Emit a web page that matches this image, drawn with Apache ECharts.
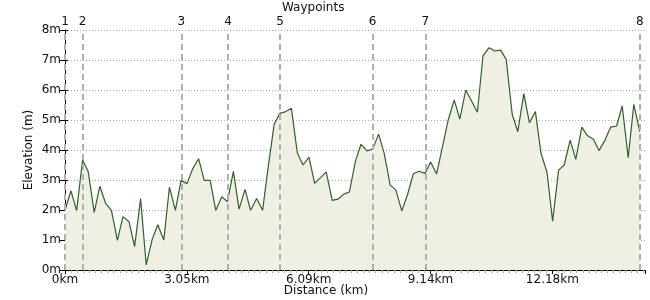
<!DOCTYPE html>
<html>
<head>
<meta charset="utf-8">
<script src="https://cdn.jsdelivr.net/npm/echarts@6/dist/echarts.min.js"></script>
<style>
html,body{margin:0;padding:0;background:#fff;}
#chart{width:650px;height:300px;}
</style>
</head>
<body>
<div id="chart"></div>
<script>
var distances = [0,0.15,0.29,0.44,0.58,0.73,0.87,1.02,1.16,1.31,1.45,1.60,1.74,1.89,2.03,2.18,2.32,2.47,2.61,2.76,
2.90,3.05,3.19,3.34,3.48,3.63,3.77,3.92,4.06,4.21,4.35,4.50,4.64,4.79,4.94,5.08,5.23,5.37,5.52,5.66,
5.81,5.95,6.10,6.24,6.39,6.53,6.68,6.82,6.97,7.11,7.26,7.40,7.55,7.69,7.84,7.98,8.13,8.27,8.42,8.56,
8.71,8.85,9.00,9.14,9.29,9.43,9.58,9.73,9.87,10.02,10.16,10.31,10.45,10.60,10.74,10.89,11.03,11.18,11.32,11.47,
11.61,11.76,11.90,12.05,12.19,12.34,12.48,12.63,12.77,12.92,13.06,13.21,13.35,13.50,13.64,13.79,13.93,14.08,14.22,14.37];
var elevations = [1.99,2.64,1.98,3.67,3.28,1.92,2.79,2.21,1.99,0.99,1.78,1.61,0.78,2.38,0.17,1.02,1.51,1.00,2.76,1.99,
2.98,2.88,3.37,3.71,2.99,2.99,1.99,2.44,2.28,3.29,2.03,2.69,1.99,2.38,1.99,3.44,4.86,5.22,5.28,5.39,
3.89,3.50,3.76,2.89,3.08,3.27,2.32,2.36,2.53,2.60,3.62,4.19,3.97,4.03,4.53,3.89,2.83,2.67,1.97,2.50,
3.21,3.29,3.22,3.60,3.20,4.06,5.00,5.67,5.03,6.00,5.64,5.26,7.14,7.41,7.30,7.33,7.02,5.19,4.61,5.88,
4.91,5.28,3.89,3.26,1.63,3.33,3.50,4.33,3.69,4.76,4.48,4.36,3.98,4.33,4.76,4.80,5.47,3.74,5.52,4.61];
var waypointNames = ['1','2','3','4','5','6','7','8'];
var waypointDistances = [0,0.44,2.91,4.075,5.375,7.69,9.01,14.37];
var xTickInterval = 3.046;
var yTicks = [0,1,2,3,4,5,6,7,8];

var FONT = 'DejaVu Sans';
var data = distances.map(function(d,i){return [d, elevations[i]];});
var wpLines = waypointNames.map(function(n,i){
  return [{coord:[waypointDistances[i],0], name:n},{coord:[waypointDistances[i],8]}];
});

var chart = echarts.init(document.getElementById('chart'), null, {renderer:'canvas'});
chart.setOption({
  animation:false,
  backgroundColor:'#fff',
  textStyle:{fontFamily:FONT},
  grid:{left:65,right:5,top:30,bottom:30,containLabel:false,outerBoundsMode:'none'},
  xAxis:{
    type:'value',min:0,max:14.5,interval:xTickInterval,
    axisLine:{show:true,lineStyle:{color:'#000',width:1}},
    axisTick:{show:true,length:4,lineStyle:{color:'#000'}},
    minorTick:{show:true,splitNumber:20,length:3,lineStyle:{color:'#aaa'}},
    splitLine:{show:false},
    axisLabel:{fontFamily:FONT,fontSize:12,color:'#111',margin:4,showMaxLabel:false,
      formatter:function(v){return v===0?'0km':(v.toFixed(2)+'km');}},
    name:'Distance (km)',nameLocation:'middle',nameGap:15,nameMoveOverlap:false,
    nameTextStyle:{fontFamily:FONT,fontSize:12,color:'#111',padding:[0,58,0,0]}
  },
  yAxis:[{
    type:'value',min:0,max:8,interval:1,
    axisLine:{show:true,lineStyle:{color:'#000',width:1}},
    axisTick:{show:true,length:5,lineStyle:{color:'#000'}},
    splitLine:{show:true,lineStyle:{color:'#aaa',type:[1,2],width:1}},
    axisLabel:{fontFamily:FONT,fontSize:12,color:'#111',margin:4,
      formatter:function(v){return v+'m';}},
    name:'Elevation (m)',nameLocation:'middle',nameGap:30,nameRotate:90,nameMoveOverlap:false,
    nameTextStyle:{fontFamily:FONT,fontSize:12,color:'#111'}
  },{
    type:'value',min:0,max:8,interval:1,position:'left',
    axisLine:{show:false},
    axisTick:{show:true,inside:true,length:3,lineStyle:{color:'#000'}},
    splitLine:{show:false},axisLabel:{show:false}
  }],
  graphic:[{type:'text',left:282,top:2,style:{text:'Waypoints',font:'12px "DejaVu Sans"',fill:'#111'}}],
  series:[{
    type:'line',data:data,symbol:'none',
    lineStyle:{color:'#30602b',width:1.2},
    areaStyle:{color:'#f0efe4',opacity:1},
    markLine:{
      silent:true,symbol:['none','none'],
      lineStyle:{color:'#b0b0b0',type:[6,4],width:2},
      label:{show:true,position:'end',distance:2,formatter:'{b}',
        fontFamily:FONT,fontSize:12,color:'#111'},
      data:wpLines
    },
    z:3
  }]
});
</script>
</body>
</html>
